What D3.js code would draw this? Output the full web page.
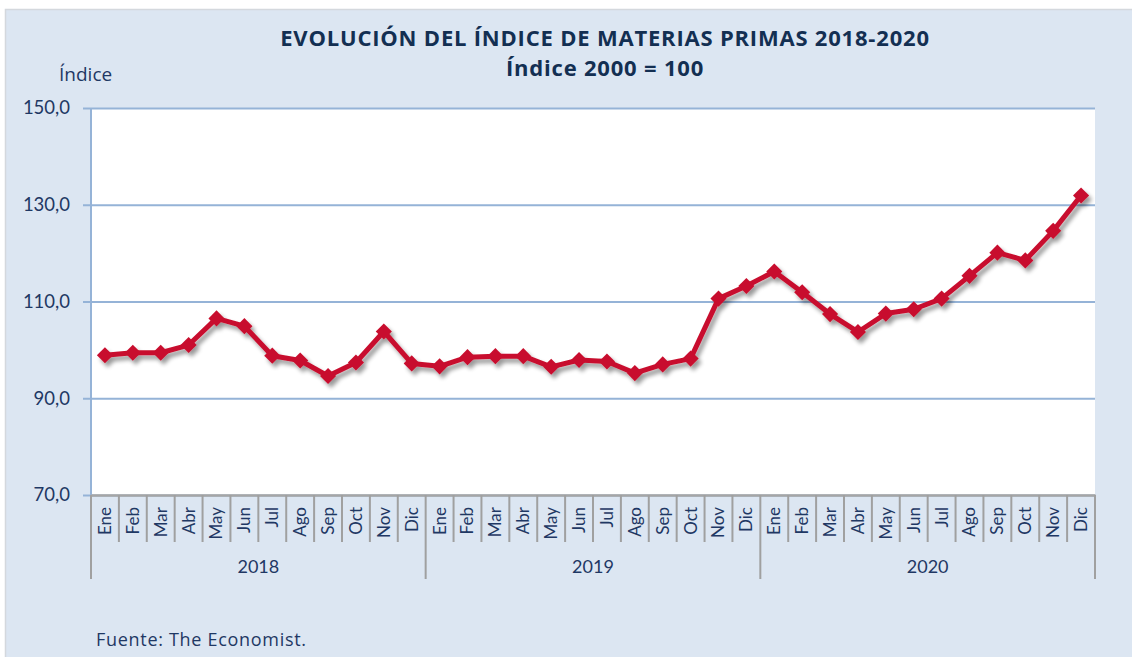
<!DOCTYPE html>
<html><head><meta charset="utf-8">
<script src="https://cdn.jsdelivr.net/npm/d3@7"></script>
<style>
html,body{margin:0;padding:0;background:#fff;}
svg{display:block;font-family:Lato,"Open Sans",sans-serif;}
</style></head>
<body>
<svg id="chart" width="1132" height="657"></svg>
<script>
const months = ["Ene","Feb","Mar","Abr","May","Jun","Jul","Ago","Sep","Oct","Nov","Dic"];
const years = ["2018","2019","2020"];
const values2018 = [98.9, 99.4, 99.4, 101.0, 106.5, 104.9, 98.8, 97.8, 94.6, 97.4, 103.8, 97.2];
const values2019 = [96.6, 98.5, 98.7, 98.7, 96.5, 97.9, 97.6, 95.2, 97.0, 98.2, 110.6, 113.2];
const values2020 = [116.2, 111.9, 107.4, 103.7, 107.5, 108.4, 110.6, 115.3, 120.1, 118.5, 124.6, 131.9];
const yTicks = [70, 90, 110, 130, 150];
const title1 = "EVOLUCIÓN DEL ÍNDICE DE MATERIAS PRIMAS 2018-2020";
const title2 = "Índice 2000 = 100";
const yLabel = "Índice";
const source = "Fuente: The Economist.";

const seriesByYear = [values2018, values2019, values2020];
const data = [];
years.forEach((yr, i) => months.forEach((m, j) => data.push({key: yr + "-" + m, year: yr, month: m, value: seriesByYear[i][j]})));

const svg = d3.select("#chart");
const W = 1132, H = 657;
const M = {left: 91, right: 1095, top: 108, bottom: 495};

// panel
svg.append("rect").attr("x", 5.5).attr("y", 9.5).attr("width", W).attr("height", H)
  .attr("fill", "#dce6f2").attr("stroke", "#d4d8dd").attr("stroke-width", 1.5);

const defs = svg.append("defs");
const f = defs.append("filter").attr("id", "shadow").attr("x", "-10%").attr("y", "-10%").attr("width", "120%").attr("height", "130%");
f.append("feGaussianBlur").attr("in", "SourceAlpha").attr("stdDeviation", 2).attr("result", "b");
f.append("feOffset").attr("in", "b").attr("dx", 3).attr("dy", 4).attr("result", "o");
f.append("feComponentTransfer").attr("in", "o").attr("result", "s")
  .append("feFuncA").attr("type", "linear").attr("slope", 0.4);
const fm = f.append("feMerge");
fm.append("feMergeNode").attr("in", "s");
fm.append("feMergeNode").attr("in", "SourceGraphic");

const x = d3.scaleBand().domain(data.map(d => d.key)).range([M.left, M.right]).padding(0);
const y = d3.scaleLinear().domain([70, 150]).range([M.bottom, M.top]);

// plot area
svg.append("rect").attr("x", M.left).attr("y", M.top).attr("width", M.right - M.left).attr("height", M.bottom - M.top).attr("fill", "#fff");

const locale = d3.formatLocale({decimal: ",", thousands: ".", grouping: [3], currency: ["", ""]});
const fmt = locale.format(".1f");

// y axis
const yAxis = svg.append("g").attr("transform", `translate(${M.left},0)`)
  .call(d3.axisLeft(y).tickValues(yTicks).tickFormat(fmt).tickSize(M.right - M.left + 8).tickSizeOuter(0));
yAxis.select(".domain").remove();
yAxis.selectAll(".tick line").attr("stroke", "#95b3d7").attr("stroke-width", 2).attr("transform", `translate(${M.right - M.left},0)`)
  .attr("x1", 0).attr("x2", -(M.right - M.left + 8));
yAxis.selectAll(".tick text").attr("x", -21).attr("fill", "#1f3864").attr("font-size", 18.5).attr("font-family", "Lato");
svg.append("line").attr("x1", M.left).attr("x2", M.left).attr("y1", M.top).attr("y2", M.bottom)
  .attr("stroke", "#95b3d7").attr("stroke-width", 2);

// x axis (months)
const xAxis = svg.append("g").attr("transform", `translate(0,${M.bottom})`)
  .call(d3.axisBottom(x).tickFormat(k => k.split("-")[1]).tickSize(0).tickSizeOuter(0));
xAxis.select(".domain").attr("stroke", "#a6a6a6").attr("stroke-width", 2.5);
xAxis.selectAll(".tick text")
  .attr("transform", "rotate(-90)").attr("text-anchor", "end")
  .attr("x", -12).attr("y", 0).attr("dy", "0.35em")
  .attr("fill", "#1f3864").attr("font-size", 17).attr("font-family", "Lato");

// month separator ticks
const sepMonth = d3.range(37).map(i => M.left + i * x.bandwidth());
svg.append("g").selectAll("line").data(sepMonth).join("line")
  .attr("x1", d => d).attr("x2", d => d).attr("y1", M.bottom).attr("y2", (d, i) => i % 12 === 0 ? 579 : 542)
  .attr("stroke", "#a0a0a0").attr("stroke-width", 2);

// year labels
svg.append("g").selectAll("text").data(years).join("text")
  .attr("x", (d, i) => (x(d + "-Ene") + x(d + "-Dic") + x.bandwidth()) / 2)
  .attr("y", 573).attr("text-anchor", "middle")
  .attr("fill", "#1f3864").attr("font-size", 18).text(d => d);

// line
const line = d3.line().x(d => x(d.key) + x.bandwidth() / 2).y(d => y(d.value));
const g = svg.append("g").attr("filter", "url(#shadow)");
g.append("path").datum(data).attr("d", line).attr("fill", "none")
  .attr("stroke", "#c8102e").attr("stroke-width", 5).attr("stroke-linejoin", "round");
const sym = d3.symbol().type(d3.symbolSquare).size(130);
g.selectAll(".pt").data(data).join("path").attr("class", "pt")
  .attr("d", sym)
  .attr("transform", d => `translate(${x(d.key) + x.bandwidth() / 2},${y(d.value)}) rotate(45)`)
  .attr("fill", "#c8102e");

// titles
svg.append("text").attr("x", 605).attr("y", 46).attr("text-anchor", "middle").attr("font-family", "Open Sans")
  .attr("fill", "#132f52").attr("font-weight", "bold").attr("font-size", 22).attr("letter-spacing", 0.8).text(title1);
svg.append("text").attr("x", 605).attr("y", 76).attr("text-anchor", "middle").attr("font-family", "Open Sans")
  .attr("fill", "#132f52").attr("font-weight", "bold").attr("font-size", 22).attr("letter-spacing", 0.8).text(title2);
svg.append("text").attr("x", 59).attr("y", 81).attr("font-family", "Open Sans")
  .attr("fill", "#1f3864").attr("font-size", 19).text(yLabel);
svg.append("text").attr("x", 96).attr("y", 646).attr("font-family", "Open Sans")
  .attr("fill", "#1f3864").attr("font-size", 18).attr("letter-spacing", 0.7).text(source);
</script>
</body></html>
